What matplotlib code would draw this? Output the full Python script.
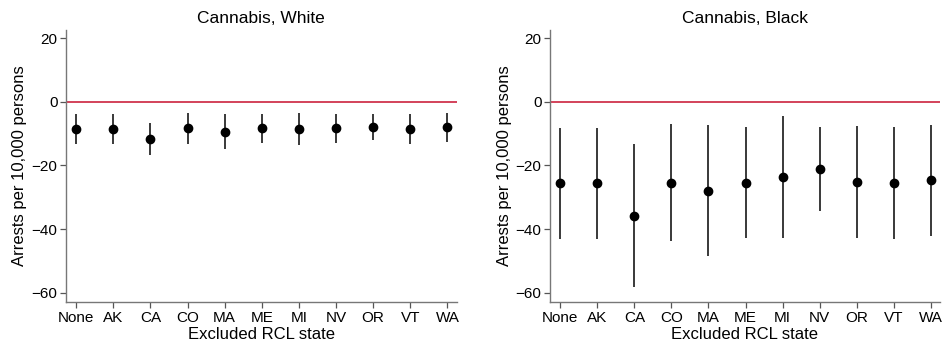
import matplotlib
matplotlib.use("Agg")
import matplotlib.pyplot as plt

plt.rcParams['font.family'] = ['Liberation Sans', 'DejaVu Sans']

states = ["None", "AK", "CA", "CO", "MA", "ME", "MI", "NV", "OR", "VT", "WA"]

# Cannabis, White
white_est = [-8.6, -8.6, -11.7, -8.3, -9.4, -8.4, -8.5, -8.3, -8.0, -8.7, -8.0]
white_hi = [-4.0, -4.0, -6.7, -3.6, -4.0, -3.9, -3.6, -3.8, -3.7, -4.0, -3.6]
white_lo = [-13.3, -13.3, -16.7, -13.2, -15.0, -13.0, -13.6, -12.9, -12.1, -13.4, -12.7]

# Cannabis, Black
black_est = [-25.5, -25.5, -35.8, -25.4, -28.0, -25.4, -23.7, -21.0, -25.2, -25.5, -24.7]
black_hi = [-8.1, -8.1, -13.2, -7.1, -7.4, -7.9, -4.4, -7.9, -7.5, -8.0, -7.2]
black_lo = [-43.0, -43.1, -58.2, -43.8, -48.6, -42.9, -42.9, -34.3, -42.9, -43.0, -42.3]

fig = plt.figure(figsize=(9.43, 3.47), dpi=100)
ax1 = fig.add_axes([0.0697, 0.129, 0.4146, 0.785])
ax2 = fig.add_axes([0.5832, 0.129, 0.4136, 0.785])


def panel(ax, title, est, lo, hi):
    x = list(range(len(states)))
    ax.axhline(0, color='#c8102e', lw=1.1, zorder=1)
    ax.vlines(x, lo, hi, color='#2a2a2a', lw=1.3, zorder=2)
    ax.plot(x, est, 'o', color='black', ms=6, zorder=3)
    ax.set_xlim(-0.28, 10.25)
    ax.set_ylim(-63, 22.6)
    ax.set_yticks([20, 0, -20, -40, -60])
    ax.set_yticklabels(['20', '0', '\u221220', '\u221240', '\u221260'])
    ax.set_xticks(x)
    ax.set_xticklabels(states)
    for s in ['top', 'right']:
        ax.spines[s].set_visible(False)
    for s in ['left', 'bottom']:
        ax.spines[s].set_color('#777777')
        ax.spines[s].set_linewidth(1.0)
    ax.tick_params(axis='both', colors='#555555', labelcolor='black',
                   labelsize=11, length=4, width=0.9, pad=2)
    ax.set_title(title, fontsize=12.5, pad=5)
    ax.set_xlabel("Excluded RCL state", fontsize=12, labelpad=1.5)
    ax.set_ylabel("Arrests per 10,000 persons", fontsize=12, labelpad=3)


panel(ax1, "Cannabis, White", white_est, white_lo, white_hi)
panel(ax2, "Cannabis, Black", black_est, black_lo, black_hi)

fig.savefig("out.png", dpi=100)
